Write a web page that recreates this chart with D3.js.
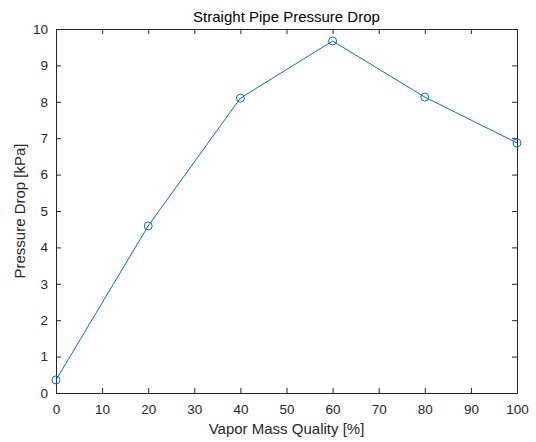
<!DOCTYPE html>
<html lang="en">
<head>
  <meta charset="UTF-8">
  <title>Straight Pipe Pressure Drop</title>
  <style>
    body { margin: 0; background: #fff; }
    svg { display: block; font-family: 'Liberation Sans', Arial, sans-serif; }
    .tick text { fill: #262626; font-size: 13.5px; }
    .tick line, .domain { stroke: #262626; }
  </style>
</head>
<body>
  <div id="chart"></div>
  <script src="https://d3js.org/d3.v7.min.js"></script>
  <script>
    // data
    const quality = [0, 20, 40, 60, 80, 100];
    const pressureDrop = [0.36, 4.59, 8.1, 9.67, 8.13, 6.87];
    const xTicks = [0, 10, 20, 30, 40, 50, 60, 70, 80, 90, 100];
    const yTicks = [0, 1, 2, 3, 4, 5, 6, 7, 8, 9, 10];

    const W = 536, H = 442;
    const m = { top: 29, right: 19, bottom: 49, left: 56 };
    const iw = W - m.left - m.right, ih = H - m.top - m.bottom;

    const svg = d3.select('#chart').append('svg').attr('width', W).attr('height', H);
    const g = svg.append('g').attr('transform', `translate(${m.left},${m.top})`);

    const x = d3.scaleLinear().domain([0, 100]).range([0, iw]);
    const y = d3.scaleLinear().domain([0, 10]).range([ih, 0]);

    // box with inward ticks
    g.append('g').attr('transform', `translate(0,${ih})`)
      .call(d3.axisBottom(x).tickValues(xTicks).tickSizeInner(-5).tickSizeOuter(0))
      .call(a => a.selectAll('text').attr('y', 20.5).attr('dy', 0));
    g.append('g')
      .call(d3.axisTop(x).tickValues(xTicks).tickSizeInner(-5).tickSizeOuter(0).tickFormat(''));
    g.append('g')
      .call(d3.axisLeft(y).tickValues(yTicks).tickSizeInner(-5).tickSizeOuter(0).tickPadding(8));
    g.append('g').attr('transform', `translate(${iw},0)`)
      .call(d3.axisRight(y).tickValues(yTicks).tickSizeInner(-5).tickSizeOuter(0).tickFormat(''));
    svg.selectAll('.domain').attr('stroke-width', 1);

    const line = d3.line().x((d, i) => x(quality[i])).y(d => y(d));
    g.append('path').datum(pressureDrop)
      .attr('fill', 'none').attr('stroke', '#0072BD').attr('stroke-width', 1)
      .attr('d', line);
    g.selectAll('circle.pt').data(pressureDrop).enter().append('circle')
      .attr('class', 'pt')
      .attr('cx', (d, i) => x(quality[i])).attr('cy', d => y(d)).attr('r', 4)
      .attr('fill', 'none').attr('stroke', '#0072BD').attr('stroke-width', 1);

    svg.append('text').attr('x', m.left + iw / 2).attr('y', 22)
      .attr('text-anchor', 'middle').attr('font-size', 15).attr('fill', '#000')
      .text('Straight Pipe Pressure Drop');
    svg.append('text').attr('x', m.left + iw / 2).attr('y', 433.5)
      .attr('text-anchor', 'middle').attr('font-size', 15).attr('fill', '#262626')
      .text('Vapor Mass Quality [%]');
    svg.append('text')
      .attr('transform', `translate(24.5,${m.top + ih / 2}) rotate(-90)`)
      .attr('text-anchor', 'middle').attr('font-size', 15).attr('fill', '#262626')
      .text('Pressure Drop [kPa]');
  </script>
</body>
</html>
